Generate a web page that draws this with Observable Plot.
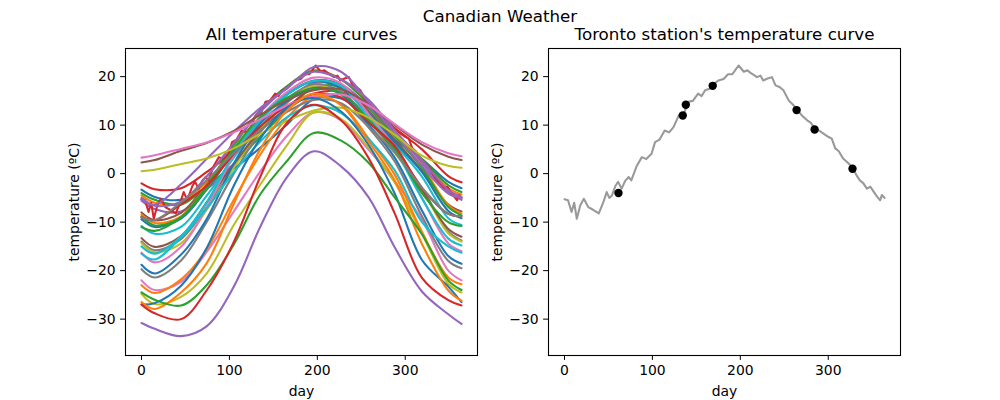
<!DOCTYPE html>
<html><head><meta charset="utf-8">
<script src="https://cdn.jsdelivr.net/npm/d3@7"></script>
<script src="https://cdn.jsdelivr.net/npm/@observablehq/plot@0.6"></script>
<style>
body{margin:0;background:#fff;font-family:"DejaVu Sans",sans-serif;}
#fig{position:relative;width:1000px;height:400px;overflow:hidden;}
#suptitle{position:absolute;left:0;width:1000px;top:6px;text-align:center;font-size:16.7px;line-height:20px;color:#000;}
#left,#right{position:absolute;top:0;}
#left{left:0}#right{left:500px}
</style></head><body>
<div id="fig"><div id="left"></div><div id="right"></div><div id="suptitle">Canadian Weather</div></div>
<script>
// Stations (plot order)
const stations = ["St. Johns","Halifax","Sydney","Yarmouth","Charlottetown","Fredericton","Scheffervll","Arvida","Bagottville","Quebec","Sherbrooke","Montreal","Ottawa","Toronto","London","Thunder Bay","Winnipeg","The Pas","Churchill","Regina","Pr. Albert","Uranium City","Edmonton","Calgary","Kamloops","Vancouver","Victoria","Pr. George","Pr. Rupert","Whitehorse","Dawson","Yellowknife","Iqaluit","Inuvik","Resolute"];
// Sample days (start, mid-month values, end)
const days = [0, 15, 45, 74, 105, 135, 166, 196, 227, 258, 288, 319, 349, 364];
// Estimated temperatures (ºC) per station at the sample days
const temps = [
  [-3.3, -4.8, -5.4, -3.0, 1.0, 5.3, 10.2, 15.4, 15.5, 11.8, 7.0, 3.0, -1.7, -3.0],
  [-4.5, -6.0, -6.0, -1.7, 3.6, 9.4, 14.7, 18.5, 18.2, 13.7, 8.0, 2.8, -3.0, -4.3],
  [-4.0, -5.4, -6.4, -2.6, 2.0, 7.6, 13.2, 17.7, 17.8, 13.5, 7.7, 3.0, -2.4, -3.8],
  [-2.0, -3.2, -3.0, 0.3, 4.7, 9.3, 13.3, 16.5, 16.9, 13.8, 9.4, 5.0, -0.5, -1.8],
  [-5.6, -7.3, -7.8, -3.3, 2.0, 8.8, 14.8, 18.8, 18.4, 13.9, 8.0, 2.2, -3.8, -5.4],
  [-8.0, -9.6, -8.1, -2.3, 4.3, 11.0, 16.4, 19.2, 18.3, 12.9, 7.0, 0.6, -6.4, -7.8],
  [-22.0, -24.0, -22.3, -16.2, -7.8, 0.4, 7.9, 12.6, 11.0, 5.0, -1.6, -9.5, -20.0, -22.0],
  [-14.0, -15.8, -13.5, -6.9, 1.5, 9.4, 15.5, 18.4, 16.9, 11.4, 4.8, -2.9, -12.0, -13.8],
  [-14.3, -16.2, -14.4, -7.5, 1.2, 8.9, 15.0, 18.0, 16.5, 10.9, 4.3, -3.3, -12.3, -14.0],
  [-10.8, -12.4, -11.0, -4.6, 3.3, 10.8, 16.3, 19.1, 17.6, 12.5, 6.1, -0.6, -9.2, -10.6],
  [-9.4, -11.0, -9.3, -3.3, 4.5, 11.5, 16.5, 19.0, 17.6, 12.5, 6.5, 0.3, -7.7, -9.2],
  [-8.4, -10.2, -8.8, -2.4, 5.7, 12.9, 18.0, 21.3, 19.5, 14.5, 8.2, 1.6, -6.5, -8.2],
  [-8.8, -10.7, -9.0, -2.5, 5.9, 13.0, 18.1, 21.2, 19.4, 14.4, 7.8, 1.2, -6.9, -8.6],
  null,
  [-5.0, -6.6, -5.8, -0.6, 6.3, 12.7, 17.8, 21.0, 19.4, 15.3, 8.9, 2.8, -3.4, -4.8],
  [-13.3, -15.1, -12.9, -6.0, 2.0, 8.7, 13.6, 17.6, 16.5, 11.1, 4.7, -3.4, -11.4, -13.0],
  [-16.3, -18.3, -15.1, -7.0, 3.8, 11.6, 16.9, 19.8, 18.6, 12.3, 5.3, -5.0, -14.4, -16.0],
  [-19.7, -21.4, -17.9, -10.0, 0.0, 8.5, 14.9, 17.7, 16.3, 9.6, 2.5, -8.8, -18.0, -19.5],
  [-24.8, -26.9, -25.4, -20.6, -10.6, -2.3, 6.0, 12.6, 11.3, 5.4, -1.8, -12.4, -22.7, -24.5],
  [-15.0, -16.5, -12.9, -6.0, 4.1, 11.4, 16.4, 19.1, 18.1, 11.6, 4.9, -5.1, -13.4, -14.8],
  [-18.8, -20.6, -16.7, -9.4, 2.1, 10.3, 15.0, 17.6, 16.4, 10.2, 3.3, -7.6, -17.0, -18.6],
  [-23.0, -24.6, -21.8, -15.7, -5.4, 3.9, 11.6, 15.8, 14.3, 7.3, -0.2, -12.0, -21.4, -22.8],
  [-11.0, -11.8, -9.0, -3.2, 5.1, 11.6, 15.7, 17.5, 16.6, 11.1, 5.1, -4.0, -10.0, -10.8],
  [-9.0, -9.6, -6.3, -2.5, 4.1, 9.7, 14.0, 16.4, 15.7, 10.6, 5.7, -3.0, -8.3, -8.8],
  [-5.3, -6.4, -2.2, 3.0, 8.6, 13.5, 17.6, 22.0, 21.0, 14.8, 8.2, 1.6, -4.1, -5.0],
  [2.3, 2.8, 4.7, 6.3, 8.8, 12.1, 15.2, 17.2, 17.4, 14.3, 10.0, 6.0, 3.5, 2.8],
  [3.3, 3.8, 5.1, 6.4, 8.5, 11.2, 14.1, 16.0, 16.3, 14.1, 10.2, 6.5, 4.2, 3.6],
  [-9.0, -9.6, -5.9, -1.4, 4.3, 9.0, 12.8, 15.2, 14.5, 9.7, 4.4, -2.9, -8.3, -8.8],
  [0.5, 0.8, 2.0, 3.1, 5.2, 8.2, 10.9, 13.0, 13.6, 11.6, 8.0, 3.7, 1.6, 1.2],
  [-16.5, -17.7, -13.1, -7.2, 0.3, 6.6, 11.7, 14.1, 12.5, 7.2, 0.7, -10.0, -15.0, -16.3],
  [-27.0, -26.7, -23.1, -15.4, -2.5, 7.2, 13.7, 15.6, 12.8, 6.0, -4.1, -17.8, -23.3, -26.5],
  [-26.5, -27.9, -24.5, -18.5, -6.2, 5.0, 13.1, 16.5, 14.1, 6.7, -1.4, -14.5, -24.1, -26.2],
  [-24.5, -26.0, -27.2, -23.0, -14.6, -4.3, 2.7, 8.4, 6.8, 2.3, -4.9, -12.5, -22.0, -24.0],
  [-27.0, -28.8, -30.0, -24.1, -14.1, -0.7, 10.6, 14.2, 11.0, 3.3, -8.2, -21.5, -26.1, -27.2],
  [-30.8, -32.0, -33.5, -31.5, -23.3, -11.0, -0.6, 4.6, 1.5, -4.8, -15.2, -24.3, -29.0, -31.0]
];
// Toronto daily curve
const torontoDays = [0,4,8,11,14,18,22,27,33,39,44,48,51,54,58,61,65,69,73,76,82,88,93,99,103,108,114,119,124,130,136,141,146,152,156,160,165,170,175,181,186,191,198,204,208,213,219,223,226,231,236,240,245,249,255,260,264,270,276,280,285,290,295,300,304,308,312,317,322,328,332,336,340,344,348,352,355,359,361,364];
const torontoTemps = [-5.3,-5.5,-7.9,-6.0,-9.3,-6.5,-5.2,-6.9,-7.5,-8.2,-6.0,-3.8,-5.0,-4.5,-2.5,-1.7,-3.1,-1.5,-0.7,-1.4,1.5,3.4,3.0,4.1,6.5,7.0,8.9,8.5,9.6,12.0,12.5,14.8,15.0,16.5,16.0,17.2,17.5,18.5,19.2,19.5,20.5,20.5,22.3,21.0,21.3,20.6,19.9,20.2,19.2,19.6,19.9,18.2,17.8,17.2,15.1,14.2,13.3,12.0,11.0,10.5,9.3,8.8,8.2,7.6,7.2,5.2,4.6,3.1,2.3,1.2,-0.3,-1.4,-2.0,-3.1,-2.7,-3.8,-4.6,-5.5,-4.4,-5.0];
// Highlighted observations on the Toronto curve
const dotDays = [61.4, 134.5, 138, 168.6, 264, 284.5, 327.6];
const dotTemps = [-4.0, 12.0, 14.2, 18.1, 13.1, 9.1, 1.0];
const xTicks = [0, 100, 200, 300];
const yTicks = [-30, -20, -10, 0, 10, 20];

const tab10 = ["#1f77b4","#ff7f0e","#2ca02c","#d62728","#9467bd","#8c564b","#e377c2","#7f7f7f","#bcbd22","#17becf"];

const rows = [];
stations.forEach((s, i) => {
  if (temps[i] === null) torontoDays.forEach((d, j) => rows.push({station: s, day: d, temp: torontoTemps[j]}));
  else days.forEach((d, j) => rows.push({station: s, day: d, temp: temps[i][j]}));
});
const toronto = rows.filter(r => r.station === "Toronto");
const dots = dotDays.map((d, i) => ({day: d, temp: dotTemps[i]}));

const fmt = d => d < 0 ? "\u2212" + Math.abs(d) : String(d);
function base(ml, mr) {
  return {
    width: 500, height: 400, marginTop: 48, marginBottom: 45, marginLeft: ml, marginRight: mr,
    style: {fontFamily: "DejaVu Sans", fontSize: "13.9px", color: "black", background: "white", overflow: "visible"},
    x: {domain: [-18.2, 382.2], ticks: xTicks, tickSize: 4.9, tickPadding: 4.9, label: null, tickFormat: fmt},
    y: {domain: [-37.5, 25.8], ticks: yTicks, tickSize: 4.9, tickPadding: 4.9, label: null, tickFormat: fmt}
  };
}
function labels(title) {
  const t = {lineAnchor: "middle", textAnchor: "middle", fill: "black"};
  return [
    Plot.text([title], {...t, text: d => d, frameAnchor: "top", dy: -14, fontSize: 16.7}),
    Plot.text(["day"], {...t, text: d => d, frameAnchor: "bottom", dy: 36, fontSize: 13.9}),
    Plot.text(["temperature (ºC)"], {...t, text: d => d, frameAnchor: "left", dx: -51, rotate: -90, fontSize: 13.9}),
    Plot.frame({stroke: "black", strokeWidth: 1.1})
  ];
}

const left = Plot.plot({
  ...base(125, 23),
  color: {domain: stations, range: stations.map((_, i) => tab10[i % 10])},
  marks: [
    ...stations.map(s => Plot.line(rows.filter(r => r.station === s), {
      x: "day", y: "temp", stroke: "station", strokeWidth: 2.08,
      curve: s === "Toronto" ? "linear" : "catmull-rom"
    })),
    ...labels("All temperature curves")
  ]
});
document.getElementById("left").appendChild(left);

const right = Plot.plot({
  ...base(48, 100),
  marks: [
    Plot.line(toronto, {x: "day", y: "temp", stroke: "#999999", strokeWidth: 2.08}),
    Plot.dot(dots, {x: "day", y: "temp", r: 4.2, fill: "black", stroke: "none"}),
    ...labels("Toronto station's temperature curve")
  ]
});
document.getElementById("right").appendChild(right);
</script>
</body></html>
